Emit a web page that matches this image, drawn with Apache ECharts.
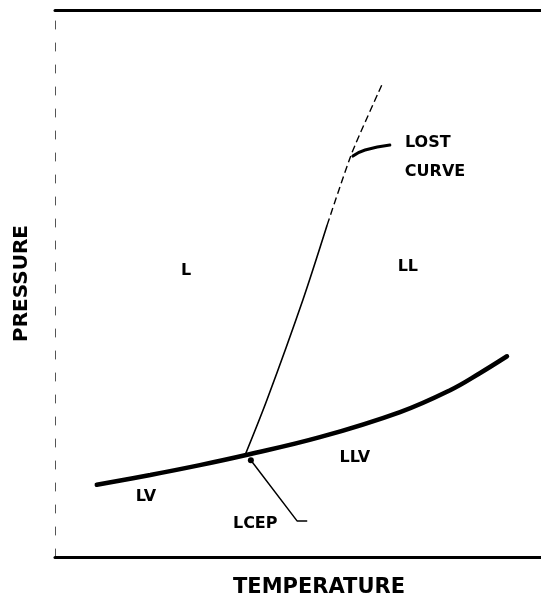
<!DOCTYPE html>
<html>
<head>
<meta charset="utf-8">
<script src="https://cdn.jsdelivr.net/npm/echarts@6/dist/echarts.min.js"></script>
<style>
html,body{margin:0;padding:0;background:#fff;}
#chart{width:541px;height:604px;}
</style>
</head>
<body>
<div id="chart"></div>
<script>
// Three-phase line (LV / LLV), temperature vs pressure (arbitrary units 0-100)
const threePhaseT = [8.6, 19.6, 29.8, 39.1, 54.5, 71.0, 81.3, 87.4, 93.0];
const threePhaseP = [13.2, 15.0, 16.8, 18.6, 21.9, 26.5, 30.5, 33.6, 36.7];
// L=L critical curve, solid part
const critSolidT = [39.1, 43.6, 51.0, 56.0];
const critSolidP = [18.6, 28.7, 47.0, 60.7];
// L=L critical curve, dashed (lost) part
const critDashT = [56.0, 61.1, 67.5];
const critDashP = [60.7, 73.9, 86.8];
// leader lines
const lcepLeaderT = [40.3, 49.8, 51.9];
const lcepLeaderP = [17.7, 6.6, 6.6];
const lostLeaderT = [61.3, 63.8, 68.9];
const lostLeaderP = [73.3, 74.4, 75.3];
// region / annotation labels
const labelText = ['L', 'LL', 'LLV', 'LV', 'LCEP', 'LOST', 'CURVE'];
const labelT = [27.0, 72.6, 61.7, 18.7, 41.2, 76.7, 78.2];
const labelP = [52.3, 53.0, 18.1, 11.0, 6.0, 75.7, 70.4];
const xName = 'TEMPERATURE';
const yName = 'PRESSURE';

const pairs = (a, b) => a.map((v, i) => [v, b[i]]);

const chart = echarts.init(document.getElementById('chart'), null, {renderer: 'canvas'});
const FONT = 'DejaVu Sans';
const option = {
  backgroundColor: '#ffffff',
  animation: false,
  grid: {left: 55, right: 0, top: 10, bottom: 47},
  xAxis: [
    {
      type: 'value', min: 0, max: 100, position: 'bottom',
      name: xName, nameLocation: 'middle', nameGap: 20,
      nameTextStyle: {fontFamily: FONT, fontSize: 21, fontWeight: 'bold', color: '#000', padding: [0, 0, 0, 42]},
      axisLine: {show: true, lineStyle: {color: '#000', width: 3}},
      axisTick: {show: false}, axisLabel: {show: false}, splitLine: {show: false}
    },
    {
      type: 'value', min: 0, max: 100, position: 'top',
      axisLine: {show: true, lineStyle: {color: '#000', width: 3}},
      axisTick: {show: false}, axisLabel: {show: false}, splitLine: {show: false}
    }
  ],
  yAxis: {
    type: 'value', min: 0, max: 100,
    name: yName, nameLocation: 'middle', nameGap: 23, nameRotate: 90,
    nameTextStyle: {fontFamily: FONT, fontSize: 20, fontWeight: 'bold', color: '#000'},
    axisLine: {show: true, lineStyle: {color: '#555', width: 1, type: [8, 14]}},
    axisTick: {show: false}, axisLabel: {show: false}, splitLine: {show: false}
  },
  series: [
    {
      name: 'three-phase', type: 'line', smooth: 0.4, showSymbol: false, symbol: 'none',
      data: pairs(threePhaseT, threePhaseP),
      lineStyle: {color: '#000', width: 4.5, cap: 'round'}
    },
    {
      name: 'critical', type: 'line', smooth: 0.3, showSymbol: false, symbol: 'none',
      data: pairs(critSolidT, critSolidP),
      lineStyle: {color: '#000', width: 1.6}
    },
    {
      name: 'lost curve', type: 'line', smooth: 0.2, showSymbol: false, symbol: 'none',
      data: pairs(critDashT, critDashP),
      lineStyle: {color: '#000', width: 1.4, type: [7, 4]}
    },
    {
      name: 'lcep leader', type: 'line', symbol: 'none',
      data: pairs(lcepLeaderT, lcepLeaderP).map((v, i) =>
        i === 0 ? {value: v, symbol: 'circle', symbolSize: 6, itemStyle: {color: '#000'}} : {value: v}),
      lineStyle: {color: '#000', width: 1.5}
    },
    {
      name: 'lost leader', type: 'line', smooth: true, showSymbol: false, symbol: 'none',
      data: pairs(lostLeaderT, lostLeaderP),
      lineStyle: {color: '#000', width: 3, cap: 'round'}
    },
    {
      name: 'labels', type: 'scatter', symbolSize: 0,
      itemStyle: {color: '#000', opacity: 1},
      data: labelText.map((t, i) => ({name: t, value: [labelT[i], labelP[i]]})),
      label: {
        show: true, position: 'inside', formatter: p => p.name,
        fontFamily: FONT, fontSize: 16, fontWeight: 'bold', color: '#000', opacity: 1
      }
    }
  ]
};
chart.setOption(option);
</script>
</body>
</html>
